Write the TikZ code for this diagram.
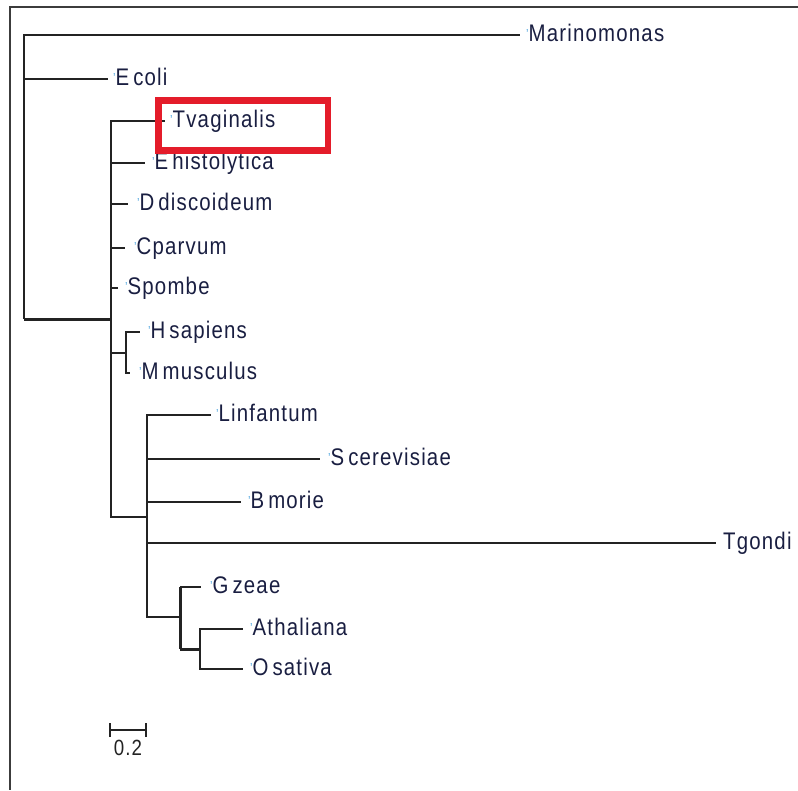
\documentclass[tikz,border=0pt]{standalone}
\usepackage{fontspec}
\setmainfont[FakeStretch=0.85,LetterSpace=5]{Liberation Sans}
\definecolor{linec}{RGB}{35,35,35}
\definecolor{framec}{RGB}{60,60,60}
\definecolor{txtc}{RGB}{25,30,65}
\definecolor{tickc}{RGB}{70,160,220}
\definecolor{boxred}{RGB}{228,28,42}
\newcommand{\tk}{{\fontsize{13}{13}\selectfont\color{tickc}\raisebox{3pt}{'}}}
\newcommand{\gp}{\hspace{4pt}}
\begin{document}
\begin{tikzpicture}[x=1pt,y=-1pt,
  br/.style={draw=linec,line width=1.4pt},
  thk/.style={draw=linec,line width=3pt},
  lbl/.style={anchor=mid west,inner sep=0pt,yshift=-4pt,text=txtc,font=\fontsize{24}{24}\selectfont},
  frame/.style={draw=framec,line width=2pt},
  redbox/.style={draw=boxred,line width=6.5pt}]
\useasboundingbox (0,0) rectangle (798,790);
% frame
\coordinate (ftl) at (10,7);
\coordinate (ftr) at (798,7);
\coordinate (fbl) at (10,790);
\draw[frame] (ftr) -- (ftl) -- (fbl);
% internal nodes
\coordinate (root) at (24,79);
\coordinate (big) at (111,319);
\coordinate (hm) at (126,353);
\coordinate (low) at (147,517);
\coordinate (gao) at (180,617);
\coordinate (ao) at (200,649);
% tips (branch ends)
\coordinate (marin) at (520,35);
\coordinate (ecoli) at (108,79);
\coordinate (tvag) at (165,121);
\coordinate (ehist) at (145,163);
\coordinate (ddisc) at (128,204);
\coordinate (cparv) at (125,248);
\coordinate (spom) at (118,288);
\coordinate (hsap) at (140,332);
\coordinate (mmus) at (130,373);
\coordinate (linf) at (211,415);
\coordinate (scer) at (320,459);
\coordinate (bmor) at (241,502);
\coordinate (tgon) at (716,543);
\coordinate (gzea) at (201,587);
\coordinate (atha) at (243,629);
\coordinate (osat) at (243,669);
% labels
\node[lbl] (Lmarin) at ([xshift=6pt]marin) {\tk Marinomonas};
\node[lbl] (Lecoli) at ([xshift=5pt]ecoli) {\tk E\gp coli};
\node[lbl] (Ltvag) at ([xshift=5pt]tvag) {\tk Tvaginalis};
\node[lbl] (Lehist) at ([xshift=7pt]ehist) {\tk E\gp histolytica};
\node[lbl] (Lddisc) at ([xshift=9pt]ddisc) {\tk D\gp discoideum};
\node[lbl] (Lcparv) at ([xshift=9pt]cparv) {\tk Cparvum};
\node[lbl] (Lspom) at ([xshift=7pt]spom) {\tk Spombe};
\node[lbl] (Lhsap) at ([xshift=8pt]hsap) {\tk H\gp sapiens};
\node[lbl] (Lmmus) at ([xshift=9pt]mmus) {\tk M\gp musculus};
\node[lbl] (Llinf) at ([xshift=5pt]linf) {\tk Linfantum};
\node[lbl] (Lscer) at ([xshift=8pt]scer) {\tk S\gp cerevisiae};
\node[lbl] (Lbmor) at ([xshift=7pt]bmor) {\tk B\gp morie};
\node[lbl] (Ltgon) at ([xshift=7pt]tgon) {Tgondi};
\node[lbl] (Lgzea) at ([xshift=9pt]gzea) {\tk G\gp zeae};
\node[lbl] (Latha) at ([xshift=7pt]atha) {\tk Athaliana};
\node[lbl] (Losat) at ([xshift=7pt]osat) {\tk O\gp sativa};
% branches
\draw[br] (root) |- (marin);
\draw[br] (root) -- (ecoli);
\draw[br] (root) -- (root |- big);
\draw[thk] (root |- big) -- (big);
\foreach \t in {tvag,ehist,ddisc,cparv,spom,low}{\draw[br] (big) |- (\t);}
\draw[br] (big) |- (hm);
\draw[br] (hm) |- (hsap);
\draw[br] (hm) |- (mmus);
\foreach \t in {linf,scer,bmor,tgon,gao}{\draw[br] (low) |- (\t);}
\draw[thk] (gao) -- (gao |- gzea);
\draw[thk] (gao) -- (gao |- ao);
\draw[br] (gao |- gzea) -- (gzea);
\draw[thk] (gao |- ao) -- (ao);
\draw[br] (ao) |- (atha);
\draw[br] (ao) |- (osat);
% scale bar
\coordinate (sb1) at (110,730);
\coordinate (sb2) at (146,730);
\draw[br] (sb1) -- (sb2);
\draw[br] ([yshift=-7pt]sb1) -- ([yshift=7pt]sb1);
\draw[br] ([yshift=-7pt]sb2) -- ([yshift=7pt]sb2);
\node[anchor=north,inner sep=0pt,text=linec,font=\fontsize{22}{22}\selectfont] (sblab) at (128,740) {0.2};
% highlight box
\coordinate (rb1) at (158.5,100.5);
\coordinate (rb2) at (328,150.5);
\draw[redbox] (rb1) rectangle (rb2);
\end{tikzpicture}
\end{document}
